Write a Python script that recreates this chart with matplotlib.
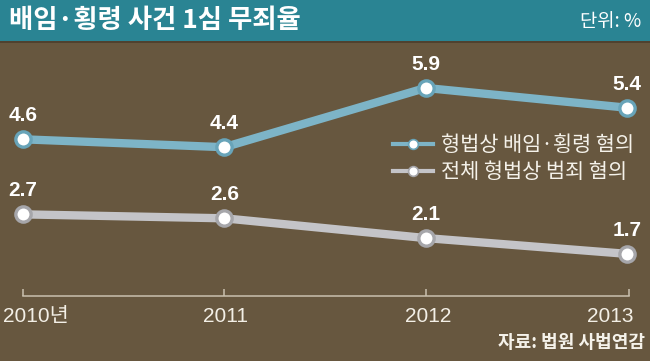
import matplotlib
matplotlib.use("Agg")
import matplotlib.pyplot as plt
from matplotlib.lines import Line2D
from matplotlib.patches import Rectangle

years = [2010, 2011, 2012, 2013]
tick_labels = ["2010년", "2011", "2012", "2013"]
embezzle = [4.6, 4.4, 5.9, 5.4]
all_crime = [2.7, 2.6, 2.1, 1.7]
series_names = ["형법상 배임·횡령 혐의", "전체 형법상 범죄 혐의"]

BG = "#67573f"
TEAL = "#2a8493"
BLUE = "#7db4c7"
BLUE_EDGE = "#68a4b9"
GREY = "#c4c4c8"
GREY_EDGE = "#a6a6aa"
AXIS = "#c9c0ae"

W, H = 650, 361
KR = ["Noto Sans CJK KR", "DejaVu Sans"]
NUM = ["Liberation Sans", "Noto Sans CJK KR", "DejaVu Sans"]

fig = plt.figure(figsize=(W / 100, H / 100), dpi=100)
fig.patch.set_facecolor(BG)
ax = fig.add_axes([0, 0, 1, 1])
ax.set_facecolor(BG)
for s in ax.spines.values():
    s.set_visible(False)
ax.set_xticks([])
ax.set_yticks([])

# pixel mapping: year 2010 -> x=23, 201.3 px per year; value v -> y=321-39.5v
px_per_year = 201.3
ax.set_xlim(2010 - 23 / px_per_year, 2010 + (W - 23) / px_per_year)
ax.set_ylim((321 - H) / 39.5, 321 / 39.5)


def fx(px):
    return px / W


def fy(py):
    return 1 - py / H


# title bar
ax.add_patch(Rectangle((0, fy(41)), 1, 41 / H, transform=ax.transAxes,
                       facecolor=TEAL, edgecolor="none", zorder=5))
ax.add_patch(Rectangle((0, fy(43)), 1, 2 / H, transform=ax.transAxes,
                       facecolor="#4f4230", edgecolor="none", zorder=5))
fig.text(fx(9), fy(21), "배임·횡령 사건 1심 무죄율", color="white", fontsize=19,
         fontweight="bold", family=KR, va="center", ha="left", zorder=6)
fig.text(fx(641), fy(21), "단위: %", color="white", fontsize=13.5,
         family=KR, va="center", ha="right", zorder=6)

# x axis line with ticks
base = (321 - 296) / 39.5
tick_top = (321 - 289) / 39.5
ax.plot([years[0], years[-1] + 0.01], [base, base], color=AXIS, lw=1.1, zorder=2)
ax.vlines([y if y != 2013 else 2013.01 for y in years], base, tick_top,
          color=AXIS, lw=1.1, zorder=2)

# series
ax.plot(years, embezzle, color=BLUE, lw=6, marker="o", ms=11,
        mfc="white", mec=BLUE_EDGE, mew=2.4, zorder=4, solid_capstyle="butt")
ax.plot(years, all_crime, color=GREY, lw=6, marker="o", ms=11,
        mfc="white", mec=GREY_EDGE, mew=2.4, zorder=4, solid_capstyle="butt")

for series in (embezzle, all_crime):
    for x, v in zip(years, series):
        ax.annotate(f"{v:.1f}", (x, v), xytext=(0, 13), textcoords="offset points",
                    ha="center", va="baseline", color="white", fontsize=15,
                    fontweight="bold", family=NUM, zorder=6)

# tick labels
label_x = [(3, "left"), (226, "center"), (428, "center"), (634, "right")]
for (px, ha), lab in zip(label_x, tick_labels):
    fig.text(fx(px), fy(322), lab, color="#f3efe6", fontsize=15, family=NUM,
             ha=ha, va="baseline")

# legend
handles = [
    Line2D([], [], color=BLUE, lw=3, marker="o", ms=7, mfc="white", mec=BLUE_EDGE, mew=1.2),
    Line2D([], [], color=GREY, lw=3, marker="o", ms=7, mfc="white", mec=GREY_EDGE, mew=1.2),
]
leg = ax.legend(handles, series_names, loc="upper left",
                bbox_to_anchor=(fx(393), fy(134)), bbox_transform=fig.transFigure,
                frameon=False, handlelength=1.9, handletextpad=0.4,
                labelspacing=0.25, borderpad=0, borderaxespad=0,
                prop={"family": KR, "size": 15})
for t in leg.get_texts():
    t.set_color("#f5f2ea")

# source
fig.text(fx(645), fy(343), "자료: 법원 사법연감", color="#f5f2ea", fontsize=13,
         fontweight="bold", family=KR, ha="right", va="center")

fig.savefig("out.png", dpi=100, facecolor=BG)
